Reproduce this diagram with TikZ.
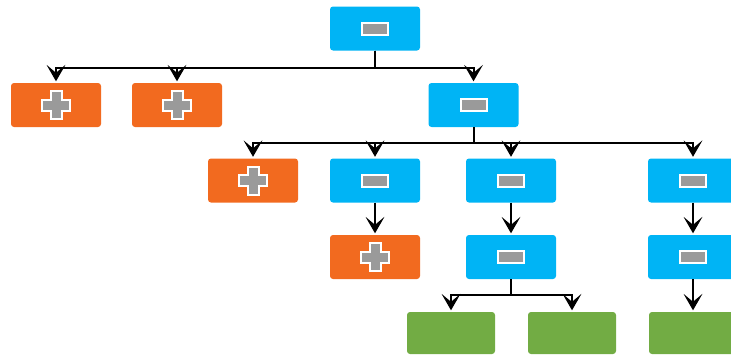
\documentclass[tikz,border=0pt]{standalone}
\definecolor{nodeblue}{HTML}{00B4F5}
\definecolor{nodeorange}{HTML}{F26A1F}
\definecolor{nodegreen}{HTML}{72AC44}
\definecolor{icongrey}{HTML}{9A9A9A}
\tikzset{
  box/.style={rounded corners=3pt, minimum width=90pt, minimum height=44pt, inner sep=0pt, draw=none},
  minusicon/.style={path picture={
      \path[sharp corners, fill=icongrey, draw=white, line width=2pt]
        ([xshift=-13pt,yshift=-6pt]path picture bounding box.center)
        rectangle ([xshift=13pt,yshift=6pt]path picture bounding box.center);}},
  plusicon/.style={path picture={
      \path[sharp corners, fill=icongrey, draw=white, line width=2pt, shift={(path picture bounding box.center)}]
        (-5.5,-14) -- (5.5,-14) -- (5.5,-5.5) -- (14,-5.5) -- (14,5.5) -- (5.5,5.5) -- (5.5,14)
        -- (-5.5,14) -- (-5.5,5.5) -- (-14,5.5) -- (-14,-5.5) -- (-5.5,-5.5) -- cycle;}},
  bluebox/.style={box, fill=nodeblue, minusicon},
  orangebox/.style={box, fill=nodeorange, plusicon},
  greenbox/.style={box, fill=nodegreen, minimum width=88pt, minimum height=42pt},
  link/.style={draw=black, line width=2pt},
  % swept-back arrowhead, tip just above the pic origin, pointing down
  head/.pic={\fill[black] (0,-1.5) -- (-9.5,-18) -- (0,-10) -- (9.5,-18) -- cycle;}
}
\begin{document}
\begin{tikzpicture}[x=1pt,y=-1pt]
  \useasboundingbox (0,0) rectangle (731,356);

  % level 1
  \node[bluebox] (root) at (375,28.5) {};
  % level 2
  \node[orangebox] (a1) at (56,105) {};
  \node[orangebox] (a2) at (177,105) {};
  \node[bluebox]   (a3) at (473.5,105) {};
  % level 3
  \node[orangebox] (b1) at (253,180.5) {};
  \node[bluebox]   (b2) at (375,180.5) {};
  \node[bluebox]   (b3) at (511,180.5) {};
  \node[bluebox]   (b4) at (693,180.5) {};
  % level 4
  \node[orangebox] (c2) at (375,257) {};
  \node[bluebox]   (c3) at (511,257) {};
  \node[bluebox]   (c4) at (693,257) {};
  % level 5
  \node[greenbox] (d1) at (451,333) {};
  \node[greenbox] (d2) at (572,333) {};
  \node[greenbox] (d4) at (693,333) {};

  % connectors: the stem stops under the arrowhead
  \foreach \t in {a1,a2,a3}
    \draw[link] (root.south) -- ++(0,17) -| ([yshift=8pt]\t.north) (\t.north) pic {head};
  \foreach \t in {b1,b2,b3,b4}
    \draw[link] (a3.south) -- ++(0,16) -| ([yshift=8pt]\t.north) (\t.north) pic {head};
  \foreach \t in {d1,d2}
    \draw[link] (c3.south) -- ++(0,16) -| ([yshift=8pt]\t.north) (\t.north) pic {head};
  \draw[link] (b2.south) -- ([yshift=8pt]c2.north) (c2.north) pic {head};
  \draw[link] (b3.south) -- ([yshift=8pt]c3.north) (c3.north) pic {head};
  \draw[link] (b4.south) -- ([yshift=8pt]c4.north) (c4.north) pic {head};
  \draw[link] (c4.south) -- ([yshift=8pt]d4.north) (d4.north) pic {head};
\end{tikzpicture}
\end{document}
